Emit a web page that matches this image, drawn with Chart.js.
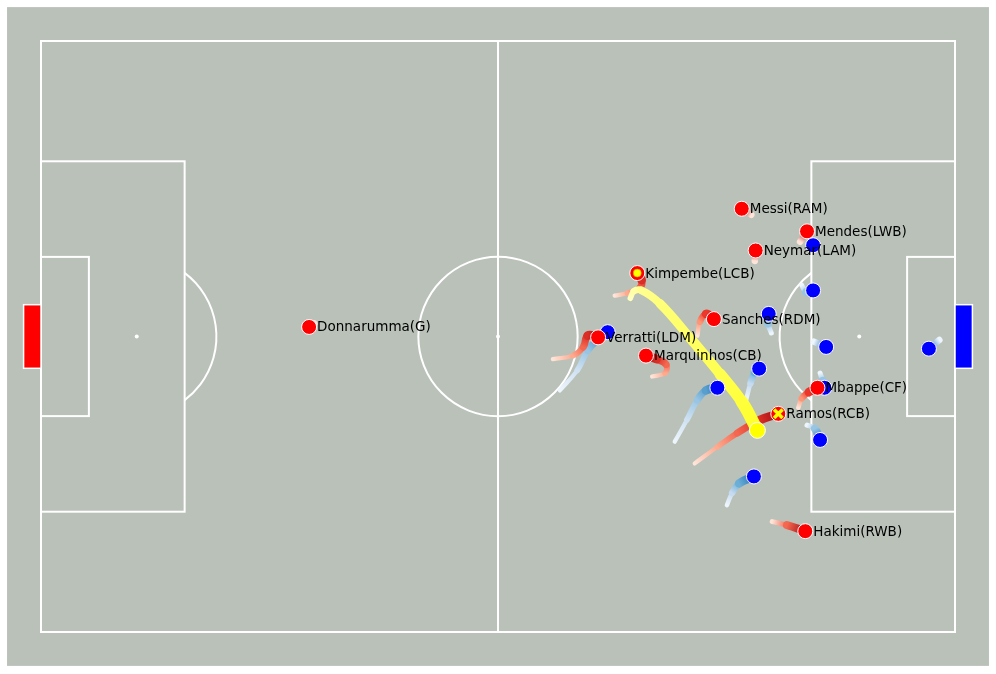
<!DOCTYPE html>
<html>
<head>
<meta charset="utf-8">
<script src="https://cdn.jsdelivr.net/npm/chart.js@4.4.1/dist/chart.umd.min.js"></script>
<style>
  html, body { margin: 0; padding: 0; background: #fff; }
  canvas { display: block; }
</style>
</head>
<body>
<canvas id="pitch" width="996" height="674"></canvas>
<script>
// pitch, metres
const PITCH_LENGTH = 105;
const PITCH_WIDTH = 68;

// red team (attacking right)
const redNames = ['Donnarumma(G)', 'Verratti(LDM)', 'Kimpembe(LCB)', 'Marquinhos(CB)', 'Sanches(RDM)',
  'Messi(RAM)', 'Mendes(LWB)', 'Neymar(LAM)', 'Mbappe(CF)', 'Ramos(RCB)', 'Hakimi(RWB)'];
const redX = [30.8, 64.0, 68.5, 69.5, 77.3, 80.5, 88.0, 82.1, 89.2, 84.7, 87.8];
const redY = [32.9, 34.1, 26.7, 36.2, 32.0, 19.3, 21.9, 24.1, 39.9, 42.9, 56.4];

// blue team
const blueX = [65.1, 88.7, 88.7, 83.6, 90.2, 82.5, 77.7, 90.0, 89.5, 81.9, 102.0];
const blueY = [33.5, 23.5, 28.7, 31.4, 35.2, 37.7, 39.9, 39.9, 45.9, 50.1, 35.4];

// ball
const ballX = 82.3;
const ballY = 44.8;

// player markers
const circleMarked = 'Kimpembe(LCB)';
const crossMarked = 'Ramos(RCB)';

// trails, oldest point first (same order as the players)
const redTrails = [
  [[31.4, 32.5], [30.8, 32.9]],
  [[58.8, 36.6], [61.1, 36.2], [62.3, 35.2], [62.8, 33.9], [64.0, 34.1]],
  [[65.9, 29.3], [67.4, 29.0], [68.8, 28.4], [69.0, 27.5], [68.5, 26.7]],
  [[70.2, 38.6], [71.7, 38.2], [71.8, 37.2], [70.7, 36.6], [69.5, 36.2]],
  [[75.4, 33.9], [75.7, 32.3], [76.4, 31.4], [77.3, 32.0]],
  [[81.6, 20.0], [80.5, 19.3]],
  [[87.2, 23.1], [88.0, 21.9]],
  [[82.0, 25.3], [82.1, 24.1]],
  [[87.0, 42.2], [87.4, 41.1], [88.2, 40.4], [89.2, 39.9]],
  [[75.1, 48.6], [77.7, 46.7], [80.0, 45.1], [82.6, 43.6], [84.7, 42.9]],
  [[84.0, 55.3], [85.7, 55.7], [87.8, 56.4]]
];
const blueTrails = [
  [[59.6, 40.2], [61.6, 37.9], [62.8, 35.6], [63.9, 34.4], [65.1, 33.5]],
  [],
  [[87.4, 28.1], [87.9, 28.9], [88.7, 28.7]],
  [[83.9, 33.6], [83.5, 32.5], [83.6, 31.4]],
  [[88.8, 34.6], [90.2, 35.2]],
  [[81.0, 41.3], [81.5, 39.4], [82.0, 38.1], [82.5, 37.7]],
  [[72.8, 46.1], [74.2, 43.6], [75.4, 41.3], [76.4, 40.2], [77.7, 39.9]],
  [[89.5, 38.2], [89.8, 39.1], [90.0, 39.9]],
  [[88.0, 44.2], [88.9, 44.6], [89.5, 45.9]],
  [[78.8, 53.4], [79.4, 52.0], [80.2, 50.9], [81.9, 50.1]],
  [[103.2, 34.4], [102.0, 35.4]]
];
const ballTrail = [[67.7, 29.6], [68.1, 28.8], [69.0, 28.7], [71.1, 30.2], [74.6, 34.2], [78.0, 38.3], [80.5, 41.5], [82.3, 44.8]];

// colour ramps for trails (old -> new)
const redRamp = [[254, 228, 216], [252, 150, 118], [236, 56, 42], [160, 12, 20]];
const blueRamp = [[238, 245, 252], [198, 219, 239], [107, 174, 214], [33, 113, 181]];
const yellowRamp = [[255, 255, 190], [255, 255, 110], [255, 255, 40]];

const PITCH_COLOR = '#b9c1b9';

function rampColor(ramp, t) {
  t = Math.max(0, Math.min(1, t));
  const pos = t * (ramp.length - 1);
  const i = Math.min(Math.floor(pos), ramp.length - 2);
  const f = pos - i;
  const c = ramp[i].map((v, k) => Math.round(v + (ramp[i + 1][k] - v) * f));
  return `rgb(${c[0]},${c[1]},${c[2]})`;
}

function trailDataset(points, ramp, minW, maxW, order) {
  const n = Math.max(points.length - 1, 1);
  return {
    type: 'line',
    data: points.map(p => ({ x: p[0], y: p[1] })),
    pointRadius: 0,
    tension: 0.4,
    borderWidth: maxW,
    borderCapStyle: 'round',
    borderColor: rampColor(ramp, 1),
    clip: false,
    order: order,
    segment: {
      borderColor: ctx => {
        const g = ctx.chart.ctx.createLinearGradient(ctx.p0.x, ctx.p0.y, ctx.p1.x, ctx.p1.y);
        g.addColorStop(0, rampColor(ramp, ctx.p0DataIndex / n));
        g.addColorStop(1, rampColor(ramp, ctx.p1DataIndex / n));
        return g;
      },
      borderWidth: ctx => minW + (maxW - minW) * (ctx.p0DataIndex + ctx.p1DataIndex) / (2 * n),
      borderCapStyle: 'round'
    }
  };
}

const datasets = [];
redTrails.forEach(t => { if (t.length) datasets.push(trailDataset(t, redRamp, 3.5, 9.5, 7)); });
blueTrails.forEach(t => { if (t.length) datasets.push(trailDataset(t, blueRamp, 3.5, 9.5, 7)); });
datasets.push(trailDataset(ballTrail, yellowRamp, 5, 13, 6));

datasets.push({
  type: 'scatter',
  data: blueX.map((x, i) => ({ x: x, y: blueY[i] })),
  pointRadius: 7.5,
  backgroundColor: '#0000ff',
  borderColor: '#ffffff',
  borderWidth: 1,
  clip: false,
  order: 4
});

const redIndex = datasets.length;
datasets.push({
  type: 'scatter',
  data: redX.map((x, i) => ({ x: x, y: redY[i] })),
  pointRadius: 7.5,
  backgroundColor: '#ff0000',
  borderColor: '#ffffff',
  borderWidth: 1,
  clip: false,
  order: 3
});

const ci = redNames.indexOf(circleMarked);
datasets.push({
  type: 'scatter',
  data: [{ x: redX[ci], y: redY[ci] }],
  pointRadius: 4,
  backgroundColor: '#ffff00',
  borderColor: '#c8a000',
  borderWidth: 0.6,
  order: 2
});

const xi = redNames.indexOf(crossMarked);
datasets.push({
  type: 'scatter',
  data: [{ x: redX[xi], y: redY[xi] }],
  pointStyle: 'crossRot',
  pointRadius: 6,
  borderColor: '#ffff00',
  borderWidth: 3.5,
  order: 2
});

datasets.push({
  type: 'scatter',
  data: [{ x: ballX, y: ballY }],
  pointRadius: 8,
  backgroundColor: '#ffff00',
  borderColor: '#ffffff',
  borderWidth: 1,
  order: 1
});

// pitch markings, metres
const MARGIN = 3.9;
const BOX_D = 16.5, BOX_W = 40.32;
const SIX_D = 5.5, SIX_W = 18.32;
const SPOT = 11, CIRCLE_R = 9.15;
const GOAL_W = 7.32, GOAL_D = 2;

const pitchPlugin = {
  id: 'pitch',
  beforeDatasetsDraw(chart) {
    const { ctx, scales: { x, y } } = chart;
    const px = v => x.getPixelForValue(v);
    const py = v => y.getPixelForValue(v);
    const mid = PITCH_WIDTH / 2;
    const L = PITCH_LENGTH;
    ctx.save();
    ctx.fillStyle = PITCH_COLOR;
    ctx.fillRect(px(-MARGIN), py(-MARGIN), px(L + MARGIN) - px(-MARGIN), py(PITCH_WIDTH + MARGIN) - py(-MARGIN));

    ctx.strokeStyle = '#ffffff';
    ctx.lineWidth = 2;
    const rect = (x0, y0, x1, y1) => ctx.strokeRect(px(x0), py(y0), px(x1) - px(x0), py(y1) - py(y0));
    rect(0, 0, L, PITCH_WIDTH);
    ctx.beginPath();
    ctx.moveTo(px(L / 2), py(0));
    ctx.lineTo(px(L / 2), py(PITCH_WIDTH));
    ctx.stroke();
    rect(0, mid - BOX_W / 2, BOX_D, mid + BOX_W / 2);
    rect(L - BOX_D, mid - BOX_W / 2, L, mid + BOX_W / 2);
    rect(0, mid - SIX_W / 2, SIX_D, mid + SIX_W / 2);
    rect(L - SIX_D, mid - SIX_W / 2, L, mid + SIX_W / 2);

    const r = px(CIRCLE_R) - px(0);
    ctx.beginPath();
    ctx.arc(px(L / 2), py(mid), r, 0, 2 * Math.PI);
    ctx.stroke();
    const a = Math.acos((BOX_D - SPOT) / CIRCLE_R);
    ctx.beginPath();
    ctx.arc(px(SPOT), py(mid), r, -a, a);
    ctx.stroke();
    ctx.beginPath();
    ctx.arc(px(L - SPOT), py(mid), r, Math.PI - a, Math.PI + a);
    ctx.stroke();

    ctx.fillStyle = '#ffffff';
    [SPOT, L / 2, L - SPOT].forEach(sx => {
      ctx.beginPath();
      ctx.arc(px(sx), py(mid), 2, 0, 2 * Math.PI);
      ctx.fill();
    });

    // goals
    ctx.lineWidth = 1.5;
    [[-GOAL_D, 0, '#ff0000'], [L, L + GOAL_D, '#0000ff']].forEach(([g0, g1, col]) => {
      const gx = px(g0), gy = py(mid - GOAL_W / 2);
      const gw = px(g1) - px(g0), gh = py(mid + GOAL_W / 2) - gy;
      ctx.fillStyle = col;
      ctx.fillRect(gx, gy, gw, gh);
      ctx.strokeRect(gx, gy, gw, gh);
    });
    ctx.restore();
  }
};

const labelPlugin = {
  id: 'playerLabels',
  afterDatasetsDraw(chart) {
    const ctx = chart.ctx;
    const meta = chart.getDatasetMeta(redIndex);
    ctx.save();
    ctx.font = '13.5px "DejaVu Sans"';
    ctx.fillStyle = '#000000';
    ctx.textAlign = 'left';
    ctx.textBaseline = 'middle';
    meta.data.forEach((pt, i) => ctx.fillText(redNames[i], pt.x + 8, pt.y + 1));
    ctx.restore();
  }
};

new Chart(document.getElementById('pitch'), {
  type: 'scatter',
  data: { datasets },
  options: {
    responsive: false,
    devicePixelRatio: 1,
    animation: false,
    events: [],
    layout: { padding: { left: 41, right: 41, top: 41, bottom: 42 } },
    scales: {
      x: { type: 'linear', min: 0, max: PITCH_LENGTH, display: false },
      y: { type: 'linear', min: 0, max: PITCH_WIDTH, reverse: true, display: false }
    },
    plugins: { legend: { display: false }, tooltip: { enabled: false } }
  },
  plugins: [pitchPlugin, labelPlugin]
});
</script>
</body>
</html>
